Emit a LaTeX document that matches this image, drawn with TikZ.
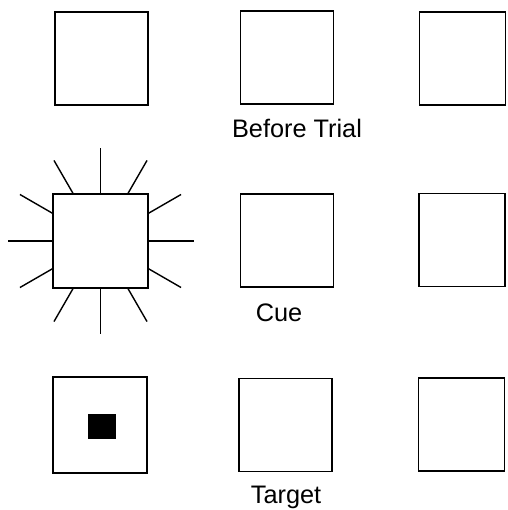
\documentclass[tikz,border=0pt]{standalone}
\usepackage{fontspec}
\setmainfont{Liberation Sans}
\usepackage{tikz}
\usetikzlibrary{positioning}

\tikzset{
  frame/.style={draw, line width=1pt, minimum width=2.33cm, minimum height=2.33cm, inner sep=0pt},
  narrowframe/.style={frame, minimum width=2.15cm},
  caption/.style={font=\fontsize{18}{20}\selectfont, inner sep=0pt},
  ray/.style={line width=1pt}
}

\begin{document}
\begin{tikzpicture}[x=0.025cm, y=-0.025cm]
  \useasboundingbox (0,0) rectangle (507,510);
  % before trial row
  \node[frame] (b1) at (101.5,58.5) {};
  \node[frame] (b2) at (287,57.5) {};
  \node[narrowframe] (b3) at (462.5,58.5) {};
  \node[caption] (lbefore) at (297,128) {Before Trial};
  % cue row
  \node[frame, minimum width=2.37cm, minimum height=2.35cm] (c1) at (100.5,241) {};
  \node[frame] (c2) at (287,240.5) {};
  \node[narrowframe] (c3) at (462,240) {};
  \node[caption] (lcue) at (279,313) {Cue};
  % y axis points down, so the polar angle is negated
  \foreach \a in {0,30,...,330}
    \draw[ray] (c1.\a) -- ([shift={(-\a:93)}]c1.center);
  % target row
  \node[frame, minimum width=2.35cm, minimum height=2.4cm] (t1) at (100,425) {};
  \node[frame] (t2) at (285.5,425) {};
  \node[narrowframe] (t3) at (461.5,424.5) {};
  \node[fill=black, minimum width=0.7cm, minimum height=0.62cm, inner sep=0pt] (dot) at (102,426.5) {};
  \node[caption] (ltarget) at (286,497) {Target};
\end{tikzpicture}
\end{document}
